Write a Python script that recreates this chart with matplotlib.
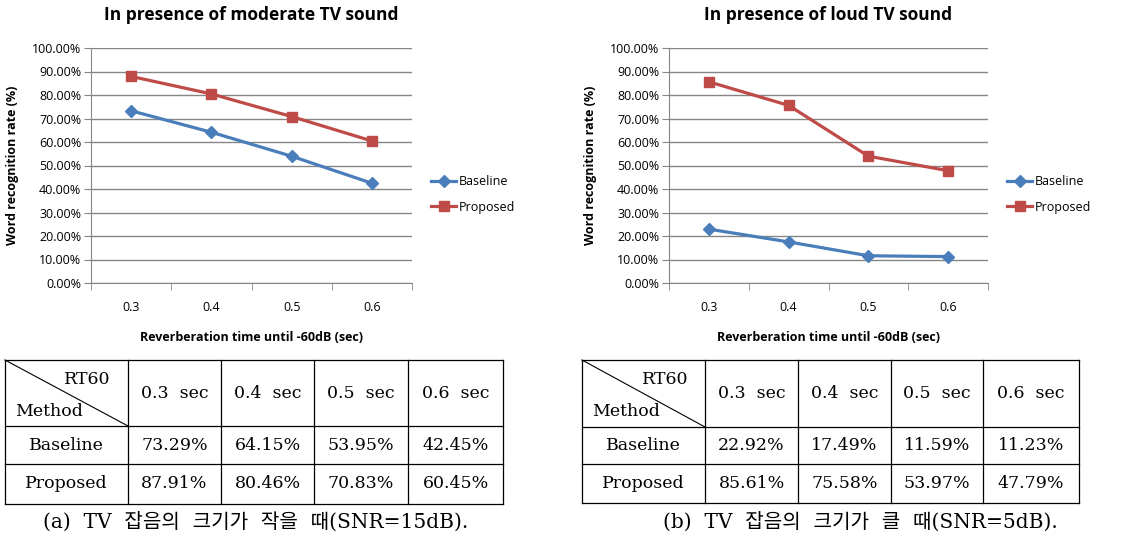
import matplotlib.pyplot as plt
import numpy as np
from matplotlib.ticker import PercentFormatter

# data
rt60 = ["0.3", "0.4", "0.5", "0.6"]
col_heads = ["0.3  sec", "0.4  sec", "0.5  sec", "0.6  sec"]
methods = ["Baseline", "Proposed"]
moderate_base = [73.29, 64.15, 53.95, 42.45]
moderate_prop = [87.91, 80.46, 70.83, 60.45]
loud_base = [22.92, 17.49, 11.59, 11.23]
loud_prop = [85.61, 75.58, 53.97, 47.79]
titles = ["In presence of moderate TV sound", "In presence of loud TV sound"]
captions = ["(a)  TV  잡음의  크기가  작을  때(SNR=15dB).",
            "(b)  TV  잡음의  크기가  클  때(SNR=5dB)."]

W, H = 1141, 543
blue = "#4A7EBB"
red = "#BE4B48"
grid_c = "#868686"
chart_font = ["Open Sans", "DejaVu Sans"]
table_font = ["DejaVu Serif", "Noto Sans CJK KR"]

fig = plt.figure(figsize=(W / 100, H / 100), dpi=100)


def px_axes(x0, y0, x1, y1):
    return fig.add_axes([x0 / W, 1 - y1 / H, (x1 - x0) / W, (y1 - y0) / H])


def draw_chart(ax, base, prop, title, leg_x):
    x = np.arange(len(rt60))
    ax.plot(x, base, color=blue, lw=2.3, marker="D", ms=6, label="Baseline")
    ax.plot(x, prop, color=red, lw=2.3, marker="s", ms=7, label="Proposed")
    ax.set_xlim(-0.5, len(rt60) - 0.5)
    ax.set_ylim(0, 100)
    ax.set_yticks(np.arange(0, 101, 10))
    ax.yaxis.set_major_formatter(PercentFormatter(decimals=2))
    ax.set_xticks(x)
    ax.set_xticklabels(rt60)
    ax.set_xticks(np.arange(-0.5, len(rt60)), minor=True)
    ax.tick_params(axis="x", which="major", length=0, pad=13, labelsize=9)
    ax.tick_params(axis="x", which="minor", length=5, color=grid_c, direction="out")
    ax.tick_params(axis="y", length=5, color=grid_c, labelsize=9, pad=2)
    for lab in ax.get_xticklabels() + ax.get_yticklabels():
        lab.set_fontfamily(chart_font)
    ax.grid(axis="y", color=grid_c, lw=1)
    ax.set_axisbelow(True)
    for s in ["top", "right"]:
        ax.spines[s].set_visible(False)
    for s in ["left", "bottom"]:
        ax.spines[s].set_color(grid_c)
    ax.set_ylabel("Word recognition rate (%)", fontsize=9, fontweight="bold",
                  fontfamily=chart_font)
    ax.yaxis.set_label_coords(-0.225, 0.5)
    ax.set_xlabel("Reverberation time until -60dB (sec)", fontsize=9,
                  fontweight="bold", fontfamily=chart_font)
    ax.xaxis.set_label_coords(0.5, -0.205)
    ax.text(0.5, 1.14, title, transform=ax.transAxes, ha="center", va="center",
            fontsize=12.5, fontweight="bold", fontfamily=chart_font)
    ax.legend(loc="center left", bbox_to_anchor=(leg_x, 0.377), frameon=False,
              borderaxespad=0, borderpad=0, handlelength=2.0,
              handletextpad=0.2, labelspacing=1.0,
              prop={"family": chart_font, "size": 9})


ax1 = px_axes(91, 48, 412, 283)
draw_chart(ax1, moderate_base, moderate_prop, titles[0], 1.06)
ax2 = px_axes(669, 48, 988, 283)
draw_chart(ax2, loud_base, loud_prop, titles[1], 1.06)

# tables, drawn on a pixel-coordinate overlay
ov = fig.add_axes([0, 0, 1, 1])
ov.set_xlim(0, W)
ov.set_ylim(H, 0)
ov.axis("off")


def draw_table(cols, rows, base, prop, caption, rt_x, me_x, cap_x):
    top, hb, r1, bot = rows
    for yy in rows:
        ov.plot([cols[0], cols[-1]], [yy, yy], color="black", lw=0.9)
    for xx in cols:
        ov.plot([xx, xx], [top, bot], color="black", lw=0.9)
    ov.plot([cols[0], cols[1]], [top, hb], color="black", lw=0.8)
    fs = 12.5
    ov.text(rt_x, top + 20, "RT60", ha="center", va="center", fontsize=fs,
            family=table_font)
    ov.text(me_x, top + 52, "Method", ha="center", va="center", fontsize=fs,
            family=table_font)
    for i, h in enumerate(col_heads):
        cx = (cols[i + 1] + cols[i + 2]) / 2
        ov.text(cx, (top + hb) / 2, h, ha="center", va="center", fontsize=fs,
                family=table_font)
    for r, (name, vals) in enumerate(zip(methods, [base, prop])):
        y0 = [hb, r1][r]
        y1 = [r1, bot][r]
        cy = (y0 + y1) / 2
        ov.text((cols[0] + cols[1]) / 2, cy, name, ha="center", va="center",
                fontsize=fs, family=table_font)
        for i, v in enumerate(vals):
            cx = (cols[i + 1] + cols[i + 2]) / 2
            ov.text(cx, cy, f"{v:.2f}%", ha="center", va="center", fontsize=fs,
                    family=table_font)
    ov.text(cap_x, 523, caption, ha="center", va="center", fontsize=14.5,
            family=table_font)


draw_table([5, 128, 221, 314, 408, 503], [360, 426, 464, 504],
           moderate_base, moderate_prop, captions[0], 87, 49, 256)
draw_table([582, 705, 798, 891, 983, 1079], [360, 427, 464, 503],
           loud_base, loud_prop, captions[1], 665, 626, 860)

fig.savefig("out.png", dpi=100)
